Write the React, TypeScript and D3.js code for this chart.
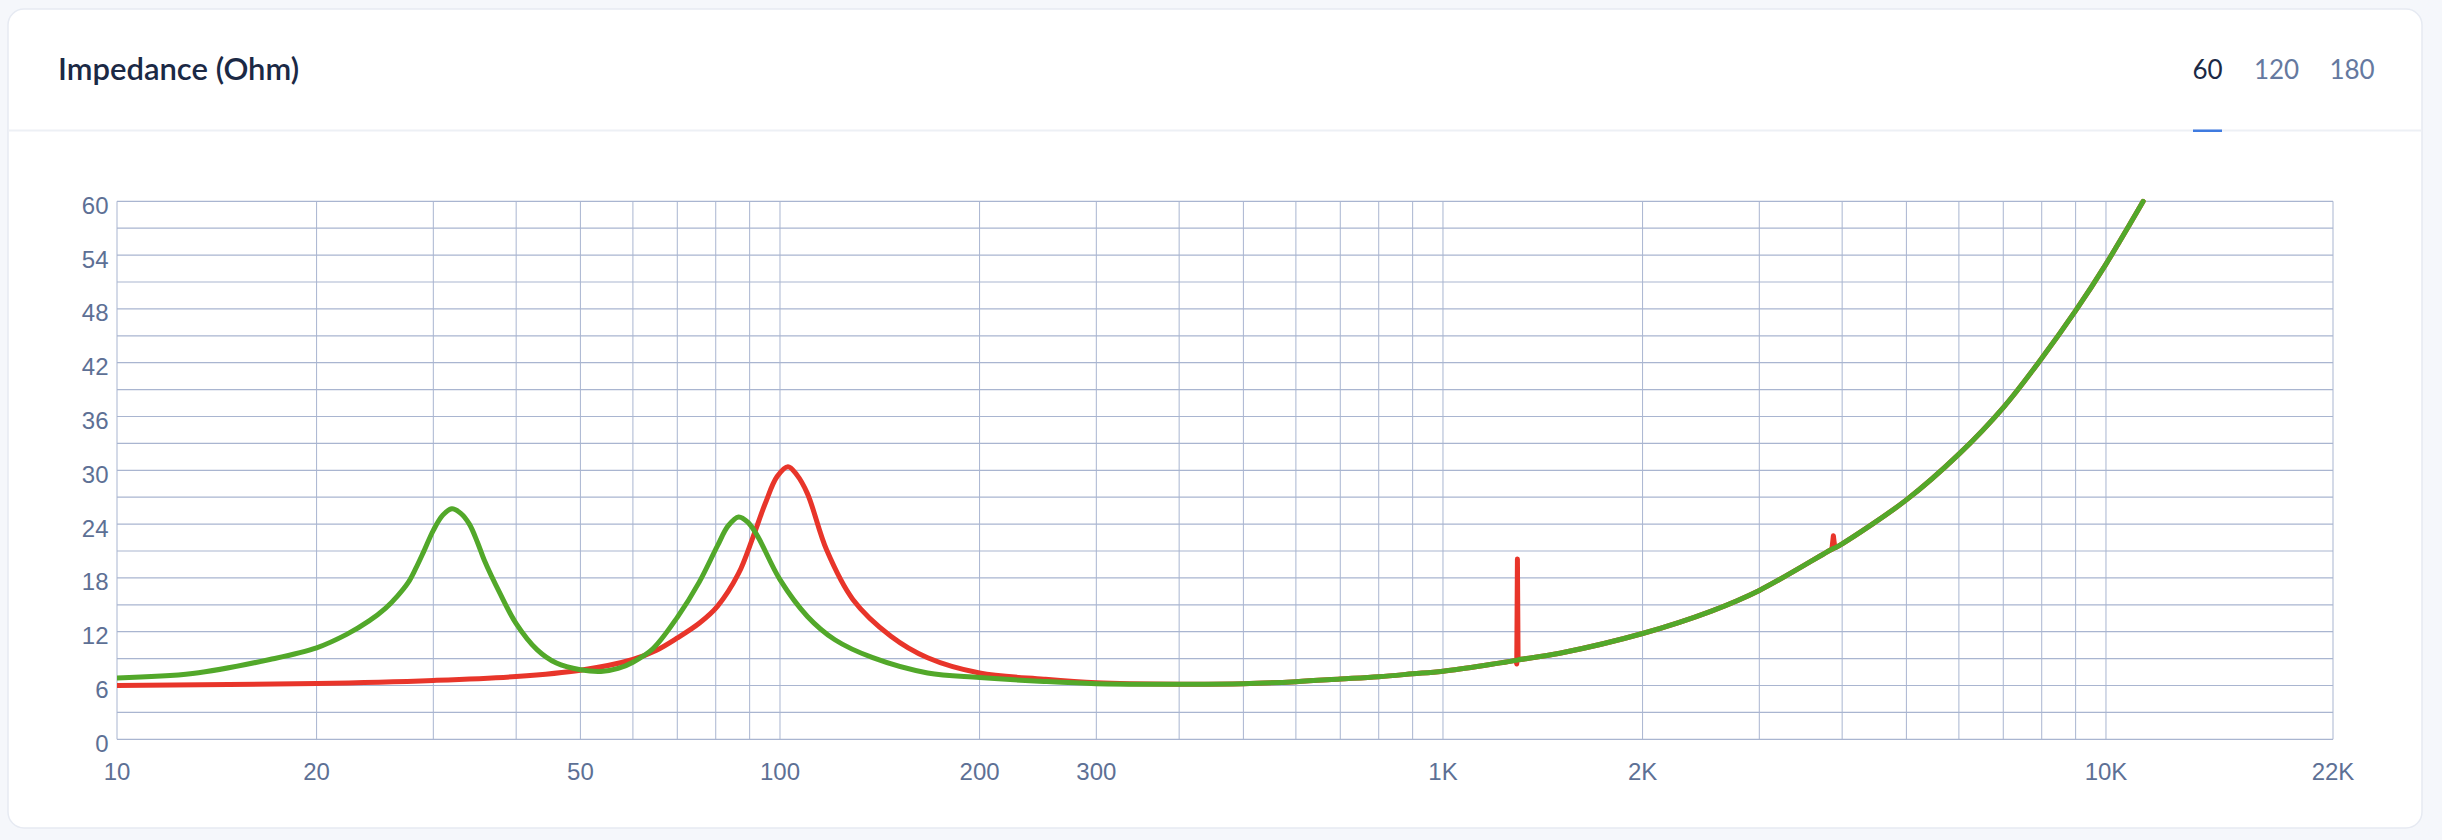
import React from "react";
import * as d3 from "d3";

// impedance readings, frequency in Hz / impedance in Ohm
const greenFreq = [10, 13, 17, 20, 22.2, 24, 25.4, 26.5, 27.5, 28.2, 29, 30, 31, 32, 33, 34, 35, 35.8, 37.8, 40, 43, 46, 50, 53.7, 57, 60, 64.3, 70, 75.5, 80.5, 83.5, 86.6, 89.5, 92.6, 100, 110, 121, 138, 167, 200, 250, 300, 400, 500, 600, 700, 800, 900, 1000, 1288, 1298, 1500, 2000, 2540, 3000, 3860, 3900, 4000, 5000, 6000, 7000, 8000, 9000, 10000, 11380];
const greenOhm = [6.85, 7.33, 8.9, 10.2, 11.7, 13.2, 14.6, 16.0, 17.5, 19.0, 20.9, 23.3, 25.0, 25.7, 25.2, 24.0, 21.9, 20.0, 16.3, 12.9, 10.0, 8.5, 7.75, 7.56, 7.9, 8.6, 10.1, 13.6, 17.5, 21.6, 23.8, 24.8, 24.2, 22.6, 17.8, 13.7, 11.1, 9.1, 7.4, 6.9, 6.45, 6.2, 6.15, 6.2, 6.43, 6.72, 6.98, 7.3, 7.6, 8.8, 8.86, 9.6, 11.8, 14.3, 16.6, 21.2, 21.35, 21.8, 26.7, 31.8, 37.0, 42.5, 47.8, 53.0, 60];

const redFreq = [10, 20, 30, 40, 50, 60, 65, 70, 75.7, 80.4, 86.6, 91, 95, 99, 102.8, 106, 110, 117.6, 128.8, 147, 167, 200, 250, 300, 400, 500, 600, 700, 800, 900, 1000, 1288, 1298, 1500, 2000, 2540, 3000, 3860, 3900, 4000, 5000, 6000, 7000, 8000, 9000, 10000, 11380];
const redOhm = [6.0, 6.22, 6.56, 7.0, 7.7, 8.9, 9.9, 11.3, 13.0, 14.8, 18.5, 22.5, 26.3, 29.3, 30.4, 29.5, 27.4, 21.1, 15.6, 11.5, 9.1, 7.4, 6.7, 6.3, 6.15, 6.2, 6.43, 6.72, 6.98, 7.3, 7.6, 8.8, 8.86, 9.6, 11.8, 14.3, 16.6, 21.2, 21.35, 21.8, 26.7, 31.8, 37.0, 42.5, 47.8, 53.0, 60];

// narrow glitches on the red trace
const redSpikeFreq = [1288, 1292, 1295, 1298];
const redSpikeOhm = [8.8, 8.4, 20.1, 8.86];
const redBumpFreq = [3860, 3880, 3900];
const redBumpOhm = [21.2, 22.7, 21.35];

const xTickLabels = [10, 20, 50, 100, 200, 300, 1000, 2000, 10000, 22000];
const yTicks = [0, 6, 12, 18, 24, 30, 36, 42, 48, 54, 60];
const tabs = ["60", "120", "180"];

const W = 2442;
const H = 840;
const plot = { left: 117, right: 2333, top: 201.3, bottom: 739.3 };

const fmtHz = (v) => (v >= 1000 ? `${v / 1000}K` : `${v}`);
const zip = (fs, vs) => fs.map((f, i) => [f, vs[i]]);

export default function App() {
  const x = d3.scaleLog().domain([10, 22000]).range([plot.left, plot.right]);
  const y = d3.scaleLinear().domain([0, 60]).range([plot.bottom, plot.top]);

  // grid every 1..9 of each decade
  const vGrid = [];
  [10, 100, 1000].forEach((dec) => {
    for (let m = 1; m <= 9; m++) vGrid.push(m * dec);
  });
  vGrid.push(10000, 22000);
  const hGrid = d3.range(0, 61, 3);

  const smooth = d3
    .line()
    .x((d) => x(d[0]))
    .y((d) => y(d[1]))
    .curve(d3.curveCatmullRom.alpha(0.5));
  const straight = d3
    .line()
    .x((d) => x(d[0]))
    .y((d) => y(d[1]));

  const gridColor = "#a9b5d0";
  const labelColor = "#5d7095";
  const redColor = "#e8352a";

  return (
    <svg width={W} height={H} style={{ position: "absolute", left: 0, top: 0 }}>
      <defs>
        <clipPath id="plotClip">
          <rect x={plot.left} y={plot.top - 3} width={plot.right - plot.left} height={plot.bottom - plot.top + 6} />
        </clipPath>
      </defs>
      <rect x={0} y={0} width={W} height={H} fill="#f5f7fb" />
      <rect x={8} y={9} width={2414} height={819} rx={16} fill="#ffffff" stroke="#e6eaf2" strokeWidth={1.5} />
      <line x1={8} x2={2422} y1={130.5} y2={130.5} stroke="#edf0f5" strokeWidth={2} />

      <text x={58} y={80} fontFamily="Lato, 'Open Sans', sans-serif" fontWeight={600} fontSize={31} fill="#1b2945">
        Impedance (Ohm)
      </text>

      {tabs.map((t, i) => (
        <text
          key={t}
          x={[2207.5, 2276.5, 2352][i]}
          y={79}
          textAnchor="middle"
          fontFamily="Lato, 'Open Sans', sans-serif"
          fontSize={26}
          fill={i === 0 ? "#1b2945" : "#6579a0"}
        >
          {t}
        </text>
      ))}
      <rect x={2193} y={129.5} width={29} height={2.5} fill="#3f7be0" />

      <g>
        {hGrid.map((v) => (
          <line key={"h" + v} x1={plot.left} x2={plot.right} y1={y(v)} y2={y(v)} stroke={gridColor} strokeWidth={1.2} />
        ))}
        {vGrid.map((v) => (
          <line key={"v" + v} x1={x(v)} x2={x(v)} y1={plot.top} y2={plot.bottom} stroke={gridColor} strokeWidth={1} />
        ))}
      </g>

      <g fontFamily="'Liberation Sans', Arial, sans-serif" fontSize={24} fill={labelColor}>
        {yTicks.map((v) => (
          <text key={"yl" + v} x={108.5} y={y(v) + 12.5} textAnchor="end">
            {v}
          </text>
        ))}
        {xTickLabels.map((v) => (
          <text key={"xl" + v} x={x(v)} y={780} textAnchor="middle">
            {fmtHz(v)}
          </text>
        ))}
      </g>

      <g clipPath="url(#plotClip)" fill="none" strokeWidth={5} strokeLinejoin="round" strokeLinecap="round">
        <path d={straight(zip(redSpikeFreq, redSpikeOhm))} stroke={redColor} />
        <path d={straight(zip(redBumpFreq, redBumpOhm))} stroke={redColor} />
        <path d={smooth(zip(redFreq, redOhm))} stroke={redColor} />
        <path d={smooth(zip(greenFreq, greenOhm))} stroke="#52a82a" />
      </g>
    </svg>
  );
}
